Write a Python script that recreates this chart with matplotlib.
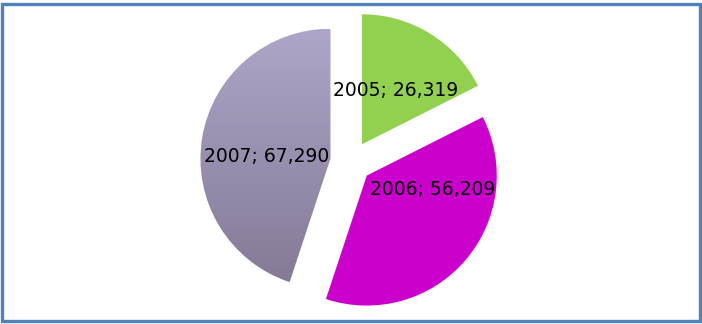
import matplotlib.pyplot as plt
import numpy as np
from matplotlib.patches import Rectangle

years = ["2005", "2006", "2007"]
values = [26319, 56209, 67290]
colors = ["#92d050", "#cc00cc", "none"]

# label placement (radius, angle in degrees) around the pie centre
label_pos = [(0.65, 58.4), (0.66, -19.0), (0.65, 176.5)]

fig = plt.figure(figsize=(7.02, 3.24), dpi=100)
ax = fig.add_axes([0, 0, 1, 1])

wedges, _ = ax.pie(values, colors=colors, startangle=90, counterclock=False,
                   explode=[0.16] * 3, radius=1.0)

# 2007 slice: vertical gradient lavender -> grey purple
w = wedges[2]
cx, cy = w.center
top = np.array([0xae, 0xa6, 0xc8]) / 255
bot = np.array([0x83, 0x79, 0x96]) / 255
t = np.linspace(0, 1, 256)[:, None]
grad = (top * (1 - t) + bot * t)[:, None, :]
im = ax.imshow(grad, extent=[cx - 1, cx + 1, cy - 1, cy + 1], aspect="auto",
               origin="upper", zorder=w.get_zorder())
im.set_clip_path(w)

for year, val, (r, ang) in zip(years, values, label_pos):
    a = np.deg2rad(ang)
    ax.text(r * np.cos(a), r * np.sin(a), f"{year}; {val:,}",
            ha="center", va="center", fontsize=13.5, color="black", zorder=5)

ax.set_xlim(-2.7, 2.7)
ax.set_ylim(-1.246, 1.246)
ax.set_aspect("equal")
ax.axis("off")

fig.patches.append(Rectangle((1.5 / 702, 3.5 / 324), 698 / 702, 317 / 324,
                             transform=fig.transFigure, fill=False,
                             edgecolor="#4f81bd", linewidth=2.4))

fig.savefig("out.png", dpi=100)
